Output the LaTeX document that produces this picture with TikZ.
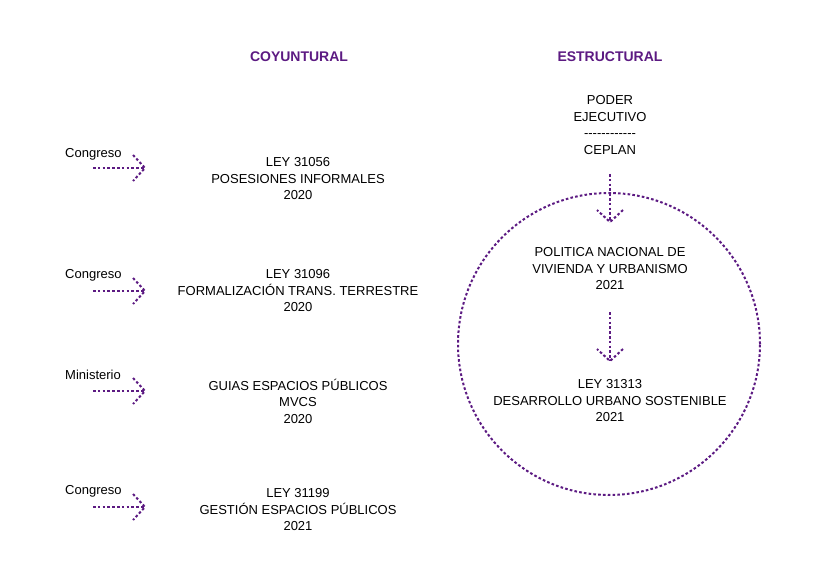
\documentclass[tikz,border=0pt]{standalone}
\usepackage{fontspec}
\setmainfont{Liberation Sans}
\usetikzlibrary{decorations.markings}
\definecolor{purp}{HTML}{5C1A82}
\tikzset{
  pdot/.style={draw=purp, line width=2pt, dash pattern=on 2.6pt off 2.2pt},
  dotarrow/.style={pdot, postaction={decorate}, decoration={markings,
     mark=at position 1 with {\draw[pdot] (-12pt,13pt) -- (0,0) -- (-12pt,-13pt);}}},
  txt/.style={align=center, font=\fontsize{13}{16.5}\selectfont, inner sep=0pt},
  lbl/.style={anchor=west, font=\fontsize{13}{14}\selectfont, inner sep=0pt},
  ttl/.style={font=\bfseries\fontsize{14}{16}\selectfont, text=purp, inner sep=0pt}
}
\begin{document}
\begin{tikzpicture}[x=1pt,y=-1pt]
\useasboundingbox (0,0) rectangle (827,585);
\node[ttl] (t1) at (299,57) {COYUNTURAL};
\node[ttl] (t2) at (610,57) {ESTRUCTURAL};

\node[lbl] (l1) at (65,154) {Congreso};
\node[lbl] (l2) at (65,275) {Congreso};
\node[lbl] (l3) at (65,375) {Ministerio};
\node[lbl] (l4) at (65,491) {Congreso};

\node[txt] (b1) at (298,179) {LEY 31056\\POSESIONES INFORMALES\\2020};
\node[txt] (b2) at (298,291) {LEY 31096\\FORMALIZACIÓN TRANS. TERRESTRE\\2020};
\node[txt] (b3) at (298,401) {GUIAS ESPACIOS PÚBLICOS\\MVCS\\2020};
\node[txt] (b4) at (298,510) {LEY 31199\\GESTIÓN ESPACIOS PÚBLICOS\\2021};

\coordinate (s1) at (93,168); \coordinate (e1) at (145,168);
\coordinate (s2) at (93,291); \coordinate (e2) at (145,291);
\coordinate (s3) at (93,391); \coordinate (e3) at (145,391);
\coordinate (s4) at (93,507); \coordinate (e4) at (145,507);
\draw[dotarrow] (s1) -- (e1);
\draw[dotarrow] (s2) -- (e2);
\draw[dotarrow] (s3) -- (e3);
\draw[dotarrow] (s4) -- (e4);

\node[txt] (r1) at (610,125) {PODER\\EJECUTIVO\\{-}{-}{-}{-}{-}{-}{-}{-}{-}{-}{-}{-}\\CEPLAN};
\node[txt] (r2) at (610,269) {POLITICA NACIONAL DE\\VIVIENDA Y URBANISMO\\2021};
\node[txt] (r3) at (610,401) {LEY 31313\\DESARROLLO URBANO SOSTENIBLE\\2021};

\node[pdot, circle, minimum size=302pt, inner sep=0pt] (c) at (609,344) {};

\coordinate (v1s) at (610,174); \coordinate (v1e) at (610,222);
\coordinate (v2s) at (610,312); \coordinate (v2e) at (610,361);
\draw[dotarrow] (v1s) -- (v1e);
\draw[dotarrow] (v2s) -- (v2e);
\end{tikzpicture}
\end{document}
